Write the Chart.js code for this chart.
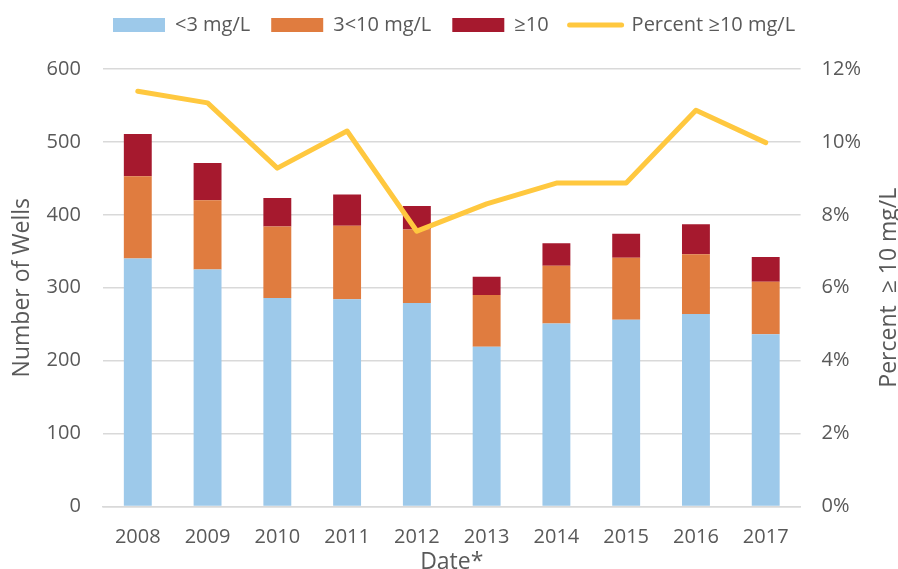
<!DOCTYPE html>
<html>
<head>
<meta charset="utf-8">
<script src="https://cdn.jsdelivr.net/npm/chart.js@4.4.1/dist/chart.umd.min.js"></script>
<style>
  body { margin: 0; background: #fff; }
  #wrap { width: 898px; height: 569px; }
</style>
</head>
<body>
<div id="wrap"><canvas id="grafico"></canvas></div>
<script>
const anos = ['2008', '2009', '2010', '2011', '2012', '2013', '2014', '2015', '2016', '2017']
const abaixo3 = [340, 325, 286, 284, 279, 219, 251, 256, 264, 236]
const de3a10 = [113, 95, 98, 101, 101, 71, 79, 85, 82, 72]
const acima10 = [58, 51, 39, 43, 32, 25, 31, 33, 41, 34]
const percentAcima10 = [11.39, 11.07, 9.28, 10.30, 7.55, 8.30, 8.87, 8.87, 10.87, 9.98]

const cinza = '#595959'
const fonte = 'Open Sans'

// legenda no lugar e titulo do eixo direito, lido de baixo para cima
const ajustes = {
    id: 'ajustes',
    afterLayout(chart) {
        chart.legend.left = 113 - 21
        chart.legend.top = -6
    },
    afterDraw(chart) {
        const ctx = chart.ctx
        const area = chart.chartArea
        ctx.save()
        ctx.translate(889, (area.top + area.bottom) / 2)
        ctx.rotate(-Math.PI / 2)
        ctx.font = '23px "' + fonte + '"'
        ctx.fillStyle = cinza
        ctx.textAlign = 'center'
        ctx.textBaseline = 'middle'
        ctx.fillText('Percent  \u2265 10 mg/L', 0, 0)
        ctx.restore()
    }
}

const grafico = new Chart(document.getElementById('grafico'), {
    type: 'bar',
    data: {
        labels: anos,
        datasets: [
            { label: '<3 mg/L', data: abaixo3, backgroundColor: '#9DC9EA', order: 1, yAxisID: 'y' },
            { label: '3<10 mg/L', data: de3a10, backgroundColor: '#E07C3F', order: 1, yAxisID: 'y' },
            { label: '\u226510', data: acima10, backgroundColor: '#A6192E', order: 1, yAxisID: 'y' },
            {
                type: 'line',
                label: 'Percent \u226510 mg/L',
                data: percentAcima10,
                borderColor: '#FFC83F',
                backgroundColor: '#FFC83F',
                borderWidth: 5,
                borderJoinStyle: 'round',
                borderCapStyle: 'round',
                pointRadius: 0,
                tension: 0,
                order: 0,
                yAxisID: 'y1'
            }
        ]
    },
    options: {
        responsive: true,
        maintainAspectRatio: false,
        animation: false,
        layout: { padding: { top: 18, right: 16, bottom: 0, left: 0 } },
        datasets: { bar: { barPercentage: 0.8, categoryPercentage: 0.5 } },
        plugins: {
            tooltip: { enabled: false },
            legend: {
                position: 'top',
                align: 'start',
                labels: {
                    color: cinza,
                    font: { family: fonte, size: 20 },
                    usePointStyle: true,
                    pointStyleWidth: 52,
                    boxHeight: 14,
                    padding: 21,
                    generateLabels(chart) {
                        return chart.data.datasets.map((ds, i) => ({
                            text: ds.label,
                            fillStyle: ds.backgroundColor,
                            strokeStyle: ds.type === 'line' ? ds.borderColor : ds.backgroundColor,
                            lineWidth: ds.type === 'line' ? 5 : 0,
                            lineCap: 'round',
                            pointStyle: ds.type === 'line' ? 'line' : 'rect',
                            fontColor: cinza,
                            datasetIndex: i
                        }))
                    }
                }
            }
        },
        scales: {
            x: {
                stacked: true,
                grid: { display: false, drawTicks: false },
                border: { color: '#D9D9D9', width: 1.5 },
                ticks: { color: cinza, font: { family: fonte, size: 20 }, padding: 19 },
                title: { display: true, text: 'Date*', color: cinza, font: { family: fonte, size: 23 }, padding: { top: -20, bottom: -7 } }
            },
            y: {
                stacked: true,
                min: 0,
                max: 600,
                ticks: { stepSize: 100, color: cinza, font: { family: fonte, size: 20 }, padding: 22 },
                grid: { color: '#D9D9D9', lineWidth: 1.5, drawTicks: false },
                border: { display: false },
                title: { display: true, text: 'Number of Wells', color: cinza, font: { family: fonte, size: 23 }, padding: { top: 9, bottom: -12 } }
            },
            y1: {
                position: 'right',
                stacked: false,
                min: 0,
                max: 12,
                ticks: {
                    stepSize: 2,
                    color: cinza,
                    font: { family: fonte, size: 20 },
                    padding: 21,
                    callback: valor => valor + '%'
                },
                grid: { display: false, drawTicks: false },
                border: { display: false }
            }
        }
    },
    plugins: [ajustes]
})
</script>
</body>
</html>
